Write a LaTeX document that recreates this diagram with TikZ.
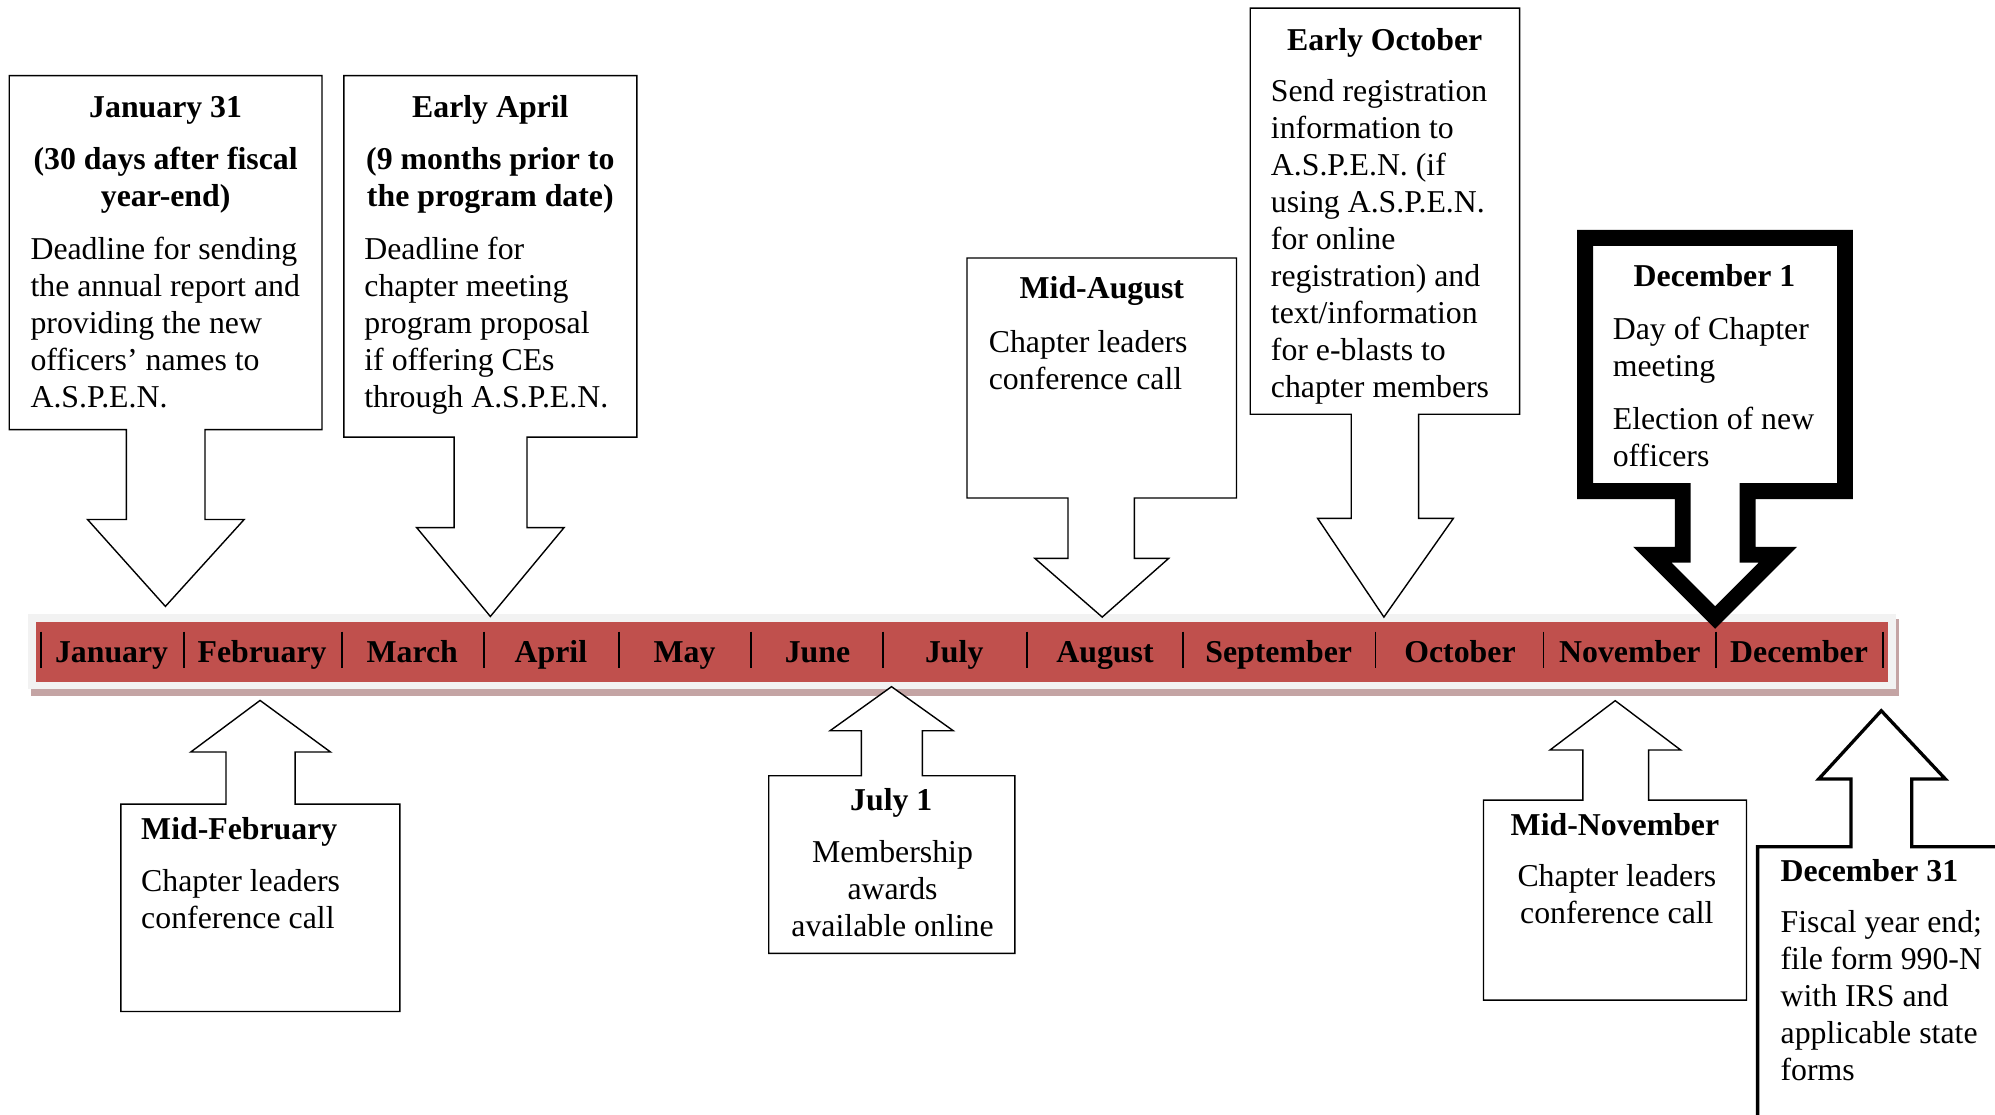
\documentclass[tikz,border=0pt]{standalone}
\usepackage{fontspec}
\setmainfont{Liberation Serif}
\definecolor{barred}{HTML}{C0504D}
\definecolor{bargray}{HTML}{F2F2F2}
\definecolor{barshadow}{HTML}{C4A4A4}
\newcommand\hdtext[1]{\parbox[t]{420pt}{\centering\bfseries #1}}
\newcommand\bdtext[1]{\parbox[t]{420pt}{\raggedright #1}}
\newcommand\cbtext[1]{\parbox[t]{420pt}{\centering #1}}
\begin{document}
\begin{tikzpicture}[x=1pt,y=-1pt,line join=miter,
  callout/.style={draw=black,fill=white,line width=1.1pt},
  txt/.style={inner sep=0pt,font=\fontsize{25}{29}\selectfont},
  hd/.style={txt,anchor=base},
  bd/.style={txt,anchor=base west},
  bdh/.style={txt,anchor=base west,font=\fontsize{25}{29}\selectfont\bfseries},
  month/.style={txt,anchor=base,font=\fontsize{25}{29}\selectfont\bfseries},
  sepline/.style={line width=1.3pt}]
\useasboundingbox (0,0) rectangle (1568,876);
\clip (0,0) rectangle (1568,876);

% timeline bar
\fill[barshadow] (24.4,486.5) rectangle (1492.6,547);
\fill[bargray] (22.3,482.6) rectangle (1490.2,541.8);
\fill[barred] (28.3,488.9) rectangle (1484.2,535.8);
\foreach \x in {32.1,144.6,268.6,380.4,486.3,590,693.8,807.2,929.7,1081,1213.2,1348.5,1479.8}
  \draw[sepline] (\x,496.5) -- (\x,525.3);
\begin{scope}[shift={(0,1.3)}]
\node[month] (m1) at (87.7,519) {January};
\node[month] (m2) at (206,519) {February};
\node[month] (m3) at (324,519) {March};
\node[month] (m4) at (433,519) {April};
\node[month] (m5) at (538,519) {May};
\node[month] (m6) at (642.5,519) {June};
\node[month] (m7) at (750,519) {July};
\node[month] (m8) at (868.5,519) {August};
\node[month] (m9) at (1005,519) {September};
\node[month] (m10) at (1147.5,519) {October};
\node[month] (m11) at (1281,519) {November};
\node[month] (m12) at (1414,519) {December};
\end{scope}

% callout shapes
\draw[callout] (7.3,59.4) -- (253.1,59.4) -- (253.1,337.7) -- (161.1,337.7) -- (161.1,408.3) -- (191.9,408.3) -- (130,476.6) -- (68.8,408.3) -- (99.3,408.3) -- (99.3,337.7) -- (7.3,337.7) -- cycle;
\draw[callout] (270.3,59.4) -- (500.5,59.4) -- (500.5,343.5) -- (414.2,343.5) -- (414.2,414.7) -- (443.3,414.7) -- (385.4,484.5) -- (327.5,414.7) -- (356.9,414.7) -- (356.9,343.5) -- (270.3,343.5) -- cycle;
\draw[callout] (760,202.8) -- (971.8,202.8) -- (971.8,391.4) -- (891.6,391.4) -- (891.6,438.9) -- (918.5,438.9) -- (866.3,485) -- (813.4,438.9) -- (839.4,438.9) -- (839.4,391.4) -- (760,391.4) -- cycle;
\draw[callout] (982.6,6.4) -- (1194.3,6.4) -- (1194.3,325.6) -- (1115,325.6) -- (1115,407.4) -- (1142.3,407.4) -- (1087.7,485) -- (1035.6,407.4) -- (1062,407.4) -- (1062,325.6) -- (982.6,325.6) -- cycle;
\draw[callout,line width=12.5pt] (1245.8,187) -- (1450.1,187) -- (1450.1,386) -- (1373.6,386) -- (1373.6,436) -- (1397.4,436) -- (1348,485.4) -- (1298.6,436) -- (1322.6,436) -- (1322.6,386) -- (1245.8,386) -- cycle;
\draw[callout] (95,632) -- (177.6,632) -- (177.6,591) -- (150,591) -- (204.4,550.5) -- (259.7,591) -- (232,591) -- (232,632) -- (314.3,632) -- (314.3,795) -- (95,795) -- cycle;
\draw[callout] (604.2,609.7) -- (677,609.7) -- (677,574.3) -- (652.4,574.3) -- (700.7,539.7) -- (749.2,574.3) -- (725,574.3) -- (725,609.7) -- (797.6,609.7) -- (797.6,749.3) -- (604.2,749.3) -- cycle;
\draw[callout] (1166,628.8) -- (1244.1,628.8) -- (1244.1,589.5) -- (1218.2,589.5) -- (1269.5,550.7) -- (1321,589.5) -- (1295.7,589.5) -- (1295.7,628.8) -- (1372.7,628.8) -- (1372.7,786) -- (1166,786) -- cycle;
\draw[callout,line width=2.6pt] (1381.4,665.5) -- (1454.8,665.5) -- (1454.8,612.3) -- (1429.4,612.3) -- (1478.6,558.6) -- (1529,612.3) -- (1502.5,612.3) -- (1502.5,665.5) -- (1600,665.5) -- (1600,900) -- (1381.4,900) -- cycle;

% callout texts
\begin{scope}[shift={(0,1.5)}]
\node[hd] (janh) at (130.2,90.8) {\hdtext{January 31\\[12pt](30 days after fiscal\\year-end)}};
\node[bd] (janb) at (23.8,202.6) {\bdtext{Deadline for sending\\the annual report and\\providing the new\\officers’ names to\\A.S.P.E.N.}};
\node[hd] (aprh) at (385.4,90.8) {\hdtext{Early April\\[12pt](9 months prior to\\the program date)}};
\node[bd] (aprb) at (286.2,202.6) {\bdtext{Deadline for\\chapter meeting\\program proposal\\if offering CEs\\through A.S.P.E.N.}};
\node[hd] (augh) at (866,233) {\hdtext{Mid-August}};
\node[bd] (augb) at (777,275.5) {\bdtext{Chapter leaders\\conference call}};
\node[hd] (octh) at (1088.3,37.9) {\hdtext{Early October}};
\node[bd] (octb) at (998.7,78.6) {\bdtext{Send registration\\information to\\A.S.P.E.N. (if\\using A.S.P.E.N.\\for online\\registration) and\\text/information\\for e-blasts to\\chapter members}};
\node[hd] (dech) at (1347.5,223.8) {\hdtext{December 1}};
\node[bd] (decb) at (1267.4,265.2) {\bdtext{Day of Chapter\\meeting\\[13pt]Election of new\\officers}};
\node[bdh] (febh) at (110.8,658) {Mid-February};
\node[bd] (febb) at (110.8,699) {\bdtext{Chapter leaders\\conference call}};
\node[hd] (julh) at (700.5,635.3) {\hdtext{July 1}};
\node[hd] (julb) at (701.5,676.5) {\cbtext{Membership\\awards\\available online}};
\node[hd] (novh) at (1269.3,655) {\hdtext{Mid-November}};
\node[hd] (novb) at (1270.8,695.6) {\cbtext{Chapter leaders\\conference call}};
\node[bdh] (d31h) at (1399.3,691.2) {December 31};
\node[bd] (d31b) at (1399.3,731.5) {\bdtext{Fiscal year end;\\file form 990-N\\with IRS and\\applicable state\\forms}};
\end{scope}
\end{tikzpicture}
\end{document}
